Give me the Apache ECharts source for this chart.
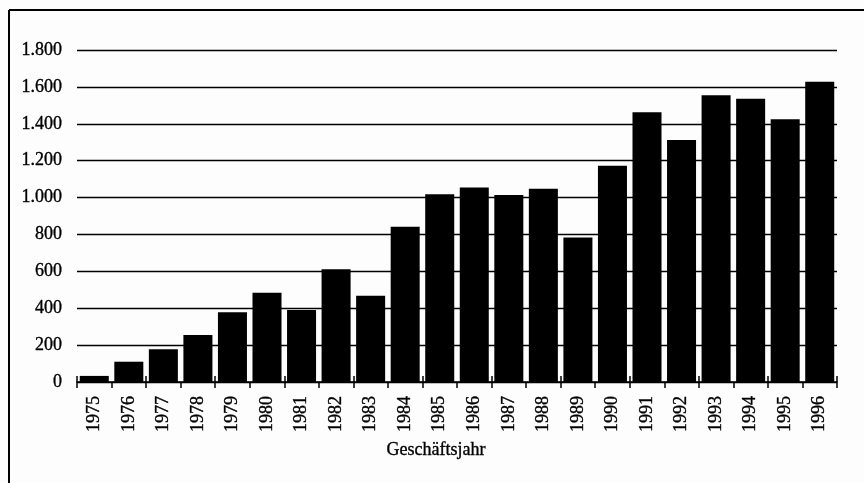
<!DOCTYPE html>
<html>
<head>
<meta charset="utf-8">
<script src="https://cdn.jsdelivr.net/npm/echarts@6/dist/echarts.min.js"></script>
<style>
  html, body { margin: 0; padding: 0; background: #fdfdfd; }
  #chart { width: 864px; height: 483px; }
</style>
</head>
<body>
<div id="chart"></div>
<script>
// Geschäftsjahre und Werte je Jahr
const years = ['1975','1976','1977','1978','1979','1980','1981','1982','1983','1984','1985',
               '1986','1987','1988','1989','1990','1991','1992','1993','1994','1995','1996'];
const values = [33, 110, 177, 255, 378, 484, 390, 611, 468, 842, 1018,
                1054, 1014, 1048, 783, 1173, 1462, 1312, 1555, 1536, 1424, 1628];
const yTicks = [0, 200, 400, 600, 800, 1000, 1200, 1400, 1600, 1800];

// Tausenderpunkt nach deutscher Schreibweise
function fmt(v) {
  return String(v).replace(/\B(?=(\d{3})+(?!\d))/g, '.');
}

const serif = '"Liberation Serif", "Times New Roman", serif';
// etwas kräftigere Schrift wie im Druck
const ink = { color: '#000', fontFamily: serif, textBorderColor: '#000', textBorderWidth: 0.35 };
const chart = echarts.init(document.getElementById('chart'), null, { renderer: 'canvas' });

chart.setOption({
  backgroundColor: '#fdfdfd',
  animation: false,
  grid: { left: 77, right: 27, top: 50, bottom: 101, containLabel: false },
  xAxis: [
    {
      type: 'category',
      data: years,
      position: 'bottom',
      axisLine: { show: true, lineStyle: { color: '#000', width: 1.5 } },
      axisTick: { show: true, inside: false, length: 6, lineStyle: { color: '#000', width: 1.5 } },
      axisLabel: Object.assign({ rotate: 90, margin: 14, fontSize: 18 }, ink),
      name: 'Geschäftsjahr',
      nameLocation: 'middle',
      nameGap: 59,
      nameTextStyle: Object.assign({ fontSize: 18, padding: [0, 42, 0, 0] }, ink)
    },
    {
      // zweite Achse: Teilstriche nach innen, damit sie die Grundlinie kreuzen
      type: 'category',
      data: years,
      position: 'bottom',
      axisLine: { show: false },
      axisTick: { show: true, inside: true, length: 6, lineStyle: { color: '#000', width: 1.5 } },
      axisLabel: { show: false },
      splitLine: { show: false }
    }
  ],
  yAxis: {
    type: 'value',
    min: yTicks[0],
    max: yTicks[yTicks.length - 1],
    interval: 200,
    axisLine: { show: false },
    axisTick: { show: false },
    axisLabel: Object.assign({ margin: 15, fontSize: 18, formatter: v => fmt(v) }, ink),
    splitLine: { show: true, lineStyle: { color: '#000', width: 1.4 } }
  },
  series: [{
    type: 'bar',
    xAxisIndex: 0,
    data: values,
    barCategoryGap: '16%',
    itemStyle: { color: '#000' }
  }],
  graphic: [
    { type: 'line', shape: { x1: 9, y1: 10, x2: 864, y2: 10 }, style: { stroke: '#000', lineWidth: 2 }, z: 10 },
    { type: 'line', shape: { x1: 9, y1: 10, x2: 9, y2: 483 }, style: { stroke: '#000', lineWidth: 2 }, z: 10 }
  ]
});
</script>
</body>
</html>
